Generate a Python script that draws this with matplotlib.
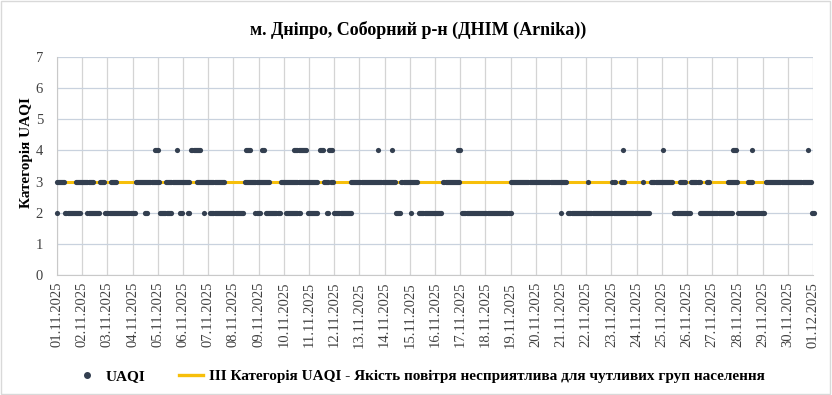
import matplotlib
matplotlib.use("Agg")
import matplotlib.pyplot as plt
import matplotlib.dates as mdates
from matplotlib.lines import Line2D
from matplotlib.patches import Rectangle
import pandas as pd
import numpy as np

plt.rcParams['font.family'] = ['Liberation Serif', 'DejaVu Serif']

title = "м. Дніпро, Соборний р-н (ДНІМ (Arnika))"
y_label = "Категорія UAQI"
series_name = "UAQI"
threshold_name = "III Категорія UAQI - Якість повітря несприятлива для чутливих груп населення"

period_start = "2025-11-01"
period_end = "2025-12-01"
threshold_value = 3

# Hour ranges (hours after 01.11.2025 00:00, inclusive) in which readings fall in each UAQI category
runs_cat2 = [(0, 0), (8, 22), (29, 40), (46, 74), (84, 86), (98, 103), (105, 109), (117, 119),
             (125, 126), (140, 140), (146, 177), (189, 193), (199, 212), (218, 231), (239, 248),
             (257, 258), (264, 280), (323, 327), (337, 337), (345, 366), (386, 432), (480, 480),
             (487, 564), (588, 603), (612, 643), (649, 673), (719, 721)]
runs_cat3 = [(0, 7), (18, 34), (41, 45), (51, 56), (75, 97), (104, 126), (133, 159), (179, 202),
             (213, 248), (254, 258), (261, 263), (280, 322), (328, 343), (368, 383), (432, 485),
             (506, 506), (529, 531), (537, 540), (558, 558), (566, 586), (593, 598), (604, 612),
             (619, 621), (639, 648), (658, 662), (675, 718)]
runs_cat4 = [(93, 96), (114, 114), (128, 136), (180, 184), (195, 197), (226, 237), (250, 253),
             (259, 262), (306, 306), (319, 319), (382, 384), (539, 539), (577, 577), (644, 647),
             (662, 662), (715, 715)]

t0 = pd.Timestamp(period_start)
t1 = pd.Timestamp(period_end)

times, values = [], []
for cat, runs in ((2, runs_cat2), (3, runs_cat3), (4, runs_cat4)):
    for a, b in runs:
        for h in range(a, b + 1):
            times.append(t0 + pd.Timedelta(hours=h))
            values.append(cat)

fig = plt.figure(figsize=(8.32, 3.95), dpi=100)
ax = fig.add_axes([57/832, 1-275/395, (813-57)/832, (275-57)/395])

# chart border
fig.patches.append(Rectangle((0.001, 0.002), 0.997, 0.995, transform=fig.transFigure,
                             fill=False, edgecolor='#d9d9d9', linewidth=1.0))

dot_color = '#333f50'
gold = '#f7bf0a'

ax.plot([t0, t1], [threshold_value, threshold_value], color=gold, linewidth=2.2, zorder=2,
        solid_capstyle='butt')
ax.scatter(times, values, s=14, color=dot_color, zorder=3, linewidths=0, clip_on=False)

ax.set_xlim(t0, t1)
ax.set_ylim(0, 7)
ax.set_yticks(range(0, 8))
days = pd.date_range(t0, t1, freq='D')
ax.set_xticks(days)
ax.xaxis.set_major_formatter(mdates.DateFormatter('%d.%m.%Y'))
plt.setp(ax.get_xticklabels(), rotation=90, fontsize=10.5, color='#404040')
plt.setp(ax.get_yticklabels(), fontsize=10.5, color='#404040')
ax.tick_params(axis='x', length=0, pad=5)
ax.tick_params(axis='y', length=0, pad=10)

ax.grid(True, axis='y', color='#c9d2de', linewidth=0.9)
ax.grid(True, axis='x', color='#d4d4d4', linewidth=0.9)
ax.set_axisbelow(True)
for s in ['top', 'right']:
    ax.spines[s].set_visible(False)
ax.spines['left'].set_color('#c9c9c9')
ax.spines['bottom'].set_color('#c9c9c9')

ax.set_ylabel(y_label, fontsize=11, fontweight='bold')
ax.yaxis.set_label_coords(-0.032, 0.56)
fig.text(0.503, 1-30/395, title, ha='center', va='center', fontsize=13, fontweight='bold')

handles = [Line2D([], [], linestyle='none', marker='o', markersize=4, color=dot_color),
           Line2D([], [], color=gold, linewidth=2.4)]
fig.legend(handles, [series_name, threshold_name], loc='center', bbox_to_anchor=(0.505, 1-376/395),
           ncol=2, frameon=False, prop={'weight': 'bold', 'size': 11}, handlelength=1.6,
           columnspacing=2.2, handletextpad=0.4)

fig.savefig('out.png', dpi=100)
